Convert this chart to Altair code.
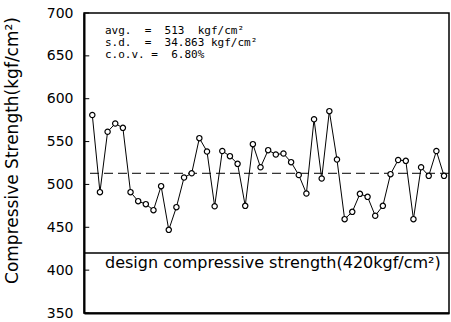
import altair as alt
import pandas as pd

# ---- data ----
idx = list(range(1, 48))
strength = [581, 491, 561.5, 571, 566, 491, 480.5, 477, 470, 498,
            447, 473.5, 508, 513, 554, 538.5, 474.5, 539, 533, 524,
            475, 547, 520, 540, 535, 536, 526, 511, 489.5, 576,
            507, 585.5, 529, 459.5, 468, 489, 485.5, 463.5, 475, 512,
            528.5, 527.5, 459.5, 520, 510, 539, 510]
NB = "\u00a0"
stats_lines = ["avg." + NB * 2 + "=" + NB * 2 + "513" + NB * 2 + "kgf/cm²",
               "s.d." + NB * 2 + "=" + NB * 2 + "34.863" + NB + "kgf/cm²",
               "c.o.v." + NB + "=" + NB * 2 + "6.80%"]
stats_y = [679.0, 665.0, 651.0]
stats_x = [2.66, 2.66, 2.66]
avg_value = [513]
design_value = [420]
design_label = ["design compressive strength(420kgf/cm²)"]
design_label_x = [2.66]
design_label_y = [408.3]
y_ticks = [350, 400, 450, 500, 550, 600, 650, 700]
x_domain = [-0.086, 47.65]
y_domain = [350, 700]
tick_x0 = [-0.086]
tick_x1 = [0.6]

FONT = "DejaVu Sans"
MONO = "DejaVu Sans Mono"

df = pd.DataFrame({"i": idx, "v": strength})
stats_df = pd.DataFrame({"x": stats_x, "y": stats_y, "t": stats_lines})
avg_df = pd.DataFrame({"y": avg_value})
design_df = pd.DataFrame({"y": design_value})
dlabel_df = pd.DataFrame({"x": design_label_x, "y": design_label_y, "t": design_label})
ticks_df = pd.DataFrame({"y": y_ticks, "x0": tick_x0 * len(y_ticks), "x1": tick_x1 * len(y_ticks)})

xs = alt.Scale(domain=x_domain, nice=False, zero=False)
ys = alt.Scale(domain=y_domain, nice=False, zero=False)

x_axis = alt.Axis(labels=False, ticks=False, title=None, grid=False,
                  domainColor="black", domainWidth=2)
y_axis = alt.Axis(values=y_ticks, title="Compressive Strength(kgf/cm²)",
                  grid=False, tickSize=0, labelPadding=11,
                  labelFont=FONT, labelFontSize=14, labelColor="black",
                  titleFont=FONT, titleFontSize=17, titleFontWeight="normal",
                  titleColor="black", titleX=-63, titleY=137,
                  domainColor="black", domainWidth=2)

line = alt.Chart(df).mark_line(color="black", strokeWidth=1).encode(
    x=alt.X("i:Q", scale=xs, axis=x_axis),
    y=alt.Y("v:Q", scale=ys, axis=y_axis),
)

points = alt.Chart(df).mark_circle(fill="white", stroke="black", strokeWidth=1.2,
                                   opacity=1, size=28).encode(
    x=alt.X("i:Q", scale=xs, axis=x_axis),
    y=alt.Y("v:Q", scale=ys, axis=y_axis),
)

avg_rule = alt.Chart(avg_df).mark_rule(color="black", strokeWidth=1, strokeDash=[9, 5]).encode(
    y=alt.Y("y:Q", scale=ys, axis=y_axis)
)

design_rule = alt.Chart(design_df).mark_rule(color="black", strokeWidth=1.5).encode(
    y=alt.Y("y:Q", scale=ys, axis=y_axis)
)

ticks = alt.Chart(ticks_df).mark_rule(color="black", strokeWidth=1).encode(
    x=alt.X("x0:Q", scale=xs, axis=x_axis),
    x2="x1:Q",
    y=alt.Y("y:Q", scale=ys, axis=y_axis),
)

stats_text = alt.Chart(stats_df).mark_text(align="left", baseline="middle", font=MONO,
                                           fontSize=11, color="black").encode(
    x=alt.X("x:Q", scale=xs, axis=x_axis),
    y=alt.Y("y:Q", scale=ys, axis=y_axis),
    text="t:N",
)

design_text = alt.Chart(dlabel_df).mark_text(align="left", baseline="middle", font=FONT,
                                             fontSize=16, color="black").encode(
    x=alt.X("x:Q", scale=xs, axis=x_axis),
    y=alt.Y("y:Q", scale=ys, axis=y_axis),
    text="t:N",
)

chart = alt.layer(line, avg_rule, design_rule, ticks, points, stats_text, design_text).properties(
    width=365, height=300,
    autosize=alt.AutoSizeParams(type="none"),
    padding={"left": 84, "top": 13, "right": 2, "bottom": 9},
    background="white",
).configure_view(stroke="black", strokeWidth=1.5)

chart.save("out.html", embed_options={"renderer": "svg", "actions": False})
